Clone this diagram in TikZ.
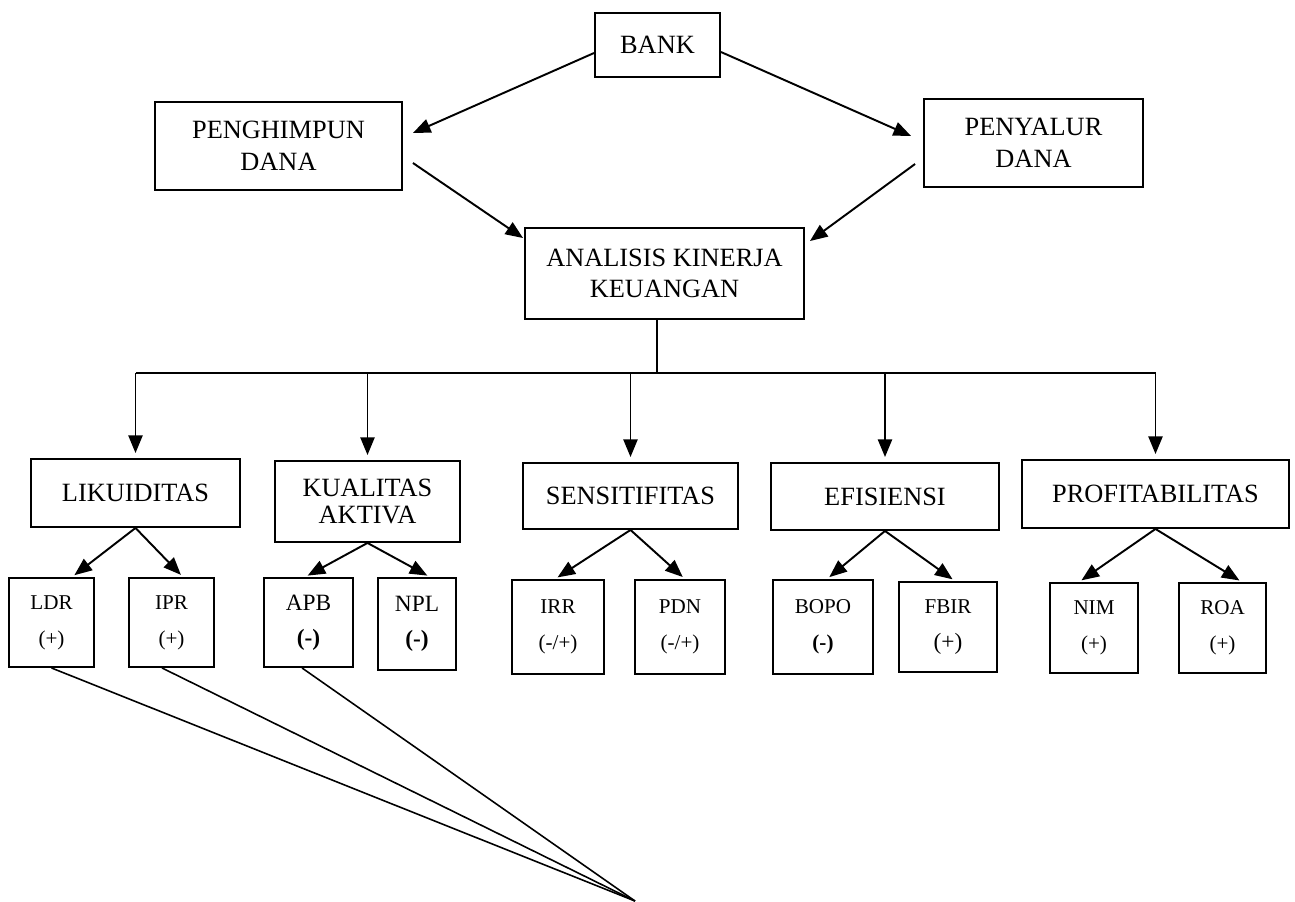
\documentclass[tikz,border=0pt]{standalone}
\usepackage{fontspec}
\setmainfont{Liberation Serif}
\usetikzlibrary{arrows.meta}
\tikzset{>={Triangle[length=10pt,width=8pt]}}
\tikzset{
  bigbox/.style={draw, line width=1.1pt, align=center, inner sep=0pt, font=\fontsize{15}{18}\selectfont},
  smallbox/.style={draw, line width=1.1pt, align=center, inner sep=0pt, font=\fontsize{12}{14.4}\selectfont},
  link/.style={->, line width=1.1pt},
}

\begin{document}
\begin{tikzpicture}[x=0.02cm, y=-0.02cm]
    \useasboundingbox (0,0) rectangle (1295,902);
    % upper part
    \node[bigbox, minimum width=2.5cm, minimum height=1.28cm] (bank) at (657.5,45) {BANK};
    \node[bigbox, minimum width=4.94cm, minimum height=1.76cm] (hmp) at (278.5,146) {PENGHIMPUN\\DANA};
    \node[bigbox, minimum width=4.38cm, minimum height=1.76cm] (slr) at (1033.5,143) {PENYALUR\\DANA};
    \node[bigbox, minimum width=5.58cm, minimum height=1.82cm] (akk) at (664.5,273.5) {ANALISIS KINERJA\\KEUANGAN};
    \draw[link] ([yshift=-0.16cm]bank.west) -- ([xshift=0.2cm,yshift=0.26cm]hmp.east);
    \draw[link] ([yshift=-0.14cm]bank.east) -- ([xshift=-0.24cm,yshift=0.14cm]slr.west);
    \draw[link] ([xshift=0.2cm,yshift=-0.34cm]hmp.east) -- ([xshift=-0.02cm,yshift=-0.22cm]akk.north west);
    \draw[link] ([xshift=-0.16cm,yshift=-0.42cm]slr.west) -- ([xshift=0.1cm,yshift=-0.28cm]akk.north east);
    % ratio groups
    \node[bigbox, minimum width=4.18cm, minimum height=1.36cm] (lik) at (135.5,493) {LIKUIDITAS};
    \node[bigbox, minimum width=3.7cm, minimum height=1.62cm, font=\fontsize{15}{15.5}\selectfont] (kual) at (367.5,501.5) {KUALITAS\\AKTIVA};
    \node[bigbox, minimum width=4.3cm, minimum height=1.32cm] (sens) at (630.5,496) {SENSITIFITAS};
    \node[bigbox, minimum width=4.56cm, minimum height=1.34cm] (efis) at (885,496.5) {EFISIENSI};
    \node[bigbox, minimum width=5.34cm, minimum height=1.36cm] (prof) at (1155.5,494) {PROFITABILITAS};
    \coordinate (bus) at (657,373);
    \draw[line width=1.1pt] (akk.south -| bus) -- (bus);
    \draw[line width=1.1pt] (bus -| lik.north) -- (bus -| prof.north);
    \foreach \g in {lik,kual,sens,efis,prof}
        \draw[link, shorten >=0.1cm] (bus -| \g.north) -- (\g.north);
    % ratios
    \node[smallbox, minimum width=1.7cm, minimum height=1.78cm] (ldr) at (51.5,622.5) {LDR\\[6pt](+)};
    \node[smallbox, minimum width=1.7cm, minimum height=1.78cm] (ipr) at (171.5,622.5) {IPR\\[6pt](+)};
    \node[smallbox, minimum width=1.78cm, minimum height=1.78cm, font=\fontsize{13.3}{16}\selectfont] (apb) at (308.5,622.5) {APB\\[4pt]\textbf{(-)}};
    \node[smallbox, minimum width=1.56cm, minimum height=1.84cm, font=\fontsize{13.3}{16}\selectfont] (npl) at (417,624) {NPL\\[4pt]\textbf{(-)}};
    \node[smallbox, minimum width=1.84cm, minimum height=1.88cm] (irr) at (558,627) {IRR\\[6pt](-/+)};
    \node[smallbox, minimum width=1.8cm, minimum height=1.88cm] (pdn) at (680,627) {PDN\\[6pt](-/+)};
    \node[smallbox, minimum width=2.0cm, minimum height=1.88cm] (bopo) at (823,627) {BOPO\\[6pt]\textbf{(-)}};
    \node[smallbox, minimum width=1.96cm, minimum height=1.8cm] (fbir) at (948,627) {FBIR\\[6pt]{\fontsize{13.3}{16}\selectfont(+)}};
    \node[smallbox, minimum width=1.76cm, minimum height=1.8cm] (nim) at (1094,628) {NIM\\[6pt](+)};
    \node[smallbox, minimum width=1.74cm, minimum height=1.8cm] (roa) at (1222.5,628) {ROA\\[6pt](+)};
    \draw[link, shorten >=0.06cm] (lik.south) -- ([xshift=0.41cm]ldr.north);
    \draw[link, shorten >=0.06cm] (lik.south) -- ([xshift=0.23cm]ipr.north);
    \draw[link, shorten >=0.06cm] (kual.south) -- ([xshift=-0.07cm]apb.north);
    \draw[link, shorten >=0.06cm] (kual.south) -- ([xshift=0.26cm]npl.north);
    \draw[link, shorten >=0.06cm] (sens.south) -- ([xshift=-0.06cm]irr.north);
    \draw[link, shorten >=0.06cm] (sens.south) -- ([xshift=0.1cm]pdn.north);
    \draw[link, shorten >=0.06cm] (efis.south) -- ([xshift=0.08cm]bopo.north);
    \draw[link, shorten >=0.06cm] (efis.south) -- ([xshift=0.14cm]fbir.north);
    \draw[link, shorten >=0.06cm] (prof.south) -- ([xshift=-0.3cm]nim.north);
    \draw[link, shorten >=0.06cm] (prof.south) -- ([xshift=0.39cm]roa.north);
    % lines below
    \coordinate (meet) at (635,901);
    \draw[line width=0.9pt] (ldr.south) -- (meet);
    \draw[line width=0.9pt] ([xshift=-0.19cm]ipr.south) -- (meet);
    \draw[line width=0.9pt] ([xshift=-0.13cm]apb.south) -- (meet);
\end{tikzpicture}
\end{document}
